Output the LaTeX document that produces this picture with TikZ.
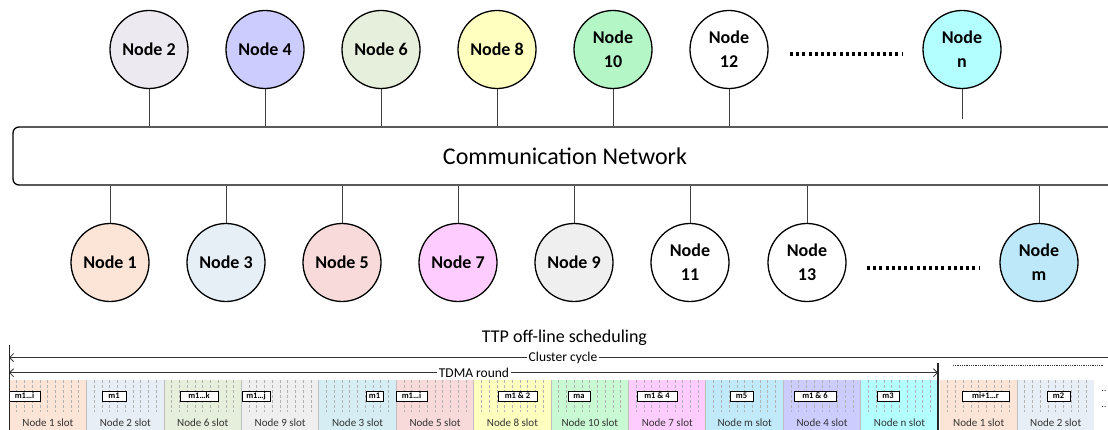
\documentclass[tikz,border=0pt]{standalone}
\usepackage{fontspec}
\setmainfont{Carlito}
\usetikzlibrary{arrows.meta}
\definecolor{cA}{HTML}{FCE4D6}
\definecolor{cB}{HTML}{EDE9F1}
\definecolor{cC}{HTML}{E6EEF6}
\definecolor{cD}{HTML}{CCCCFF}
\definecolor{cE}{HTML}{F8DADA}
\definecolor{cF}{HTML}{E6EFDB}
\definecolor{cG}{HTML}{FFCCFF}
\definecolor{cH}{HTML}{FFFFC0}
\definecolor{cI}{HTML}{EFEFEF}
\definecolor{cJ}{HTML}{B4F6C6}
\definecolor{cN}{HTML}{B3FFFF}
\definecolor{cM}{HTML}{BDE8FA}
\definecolor{sB}{HTML}{E8EEF5}
\definecolor{sC}{HTML}{D6EEF3}
\definecolor{sJ}{HTML}{C8F9D2}
\definecolor{sM}{HTML}{C0EAFA}
\definecolor{lineg}{HTML}{404040}
\begin{document}
\begin{tikzpicture}[x=1pt,y=-1pt,
  nd/.style={circle, draw=black, line width=1.3pt, minimum size=78pt, inner sep=0pt, align=center,
    font=\fontsize{18}{24}\selectfont\bfseries},
  conn/.style={draw=lineg, line width=0.8pt},
  slotbox/.style={draw=none, minimum width=77.42pt, minimum height=50pt, inner sep=0pt, anchor=north west},
  slotlbl/.style={font=\fontsize{11}{12}\selectfont, text=black!80},
  msg/.style={draw=black, fill=white, line width=0.8pt, minimum height=10pt, inner sep=0pt,
    font=\fontsize{8.5}{9}\selectfont\bfseries},
  tick/.style={draw=gray!60, line width=0.5pt, dash pattern=on 3pt off 2pt},
  sep/.style={draw=gray!50, line width=0.6pt},
  tl/.style={draw=black!80, line width=0.8pt},
  tip/.style={arrows={Straight Barb[length=4pt,width=8pt]-Straight Barb[length=4pt,width=8pt]}},
  bigdots/.style={draw=black, line width=3.4pt, dash pattern=on 3pt off 3.2pt}
]
\useasboundingbox (0,0) rectangle (1108,430);
\clip (0,0) rectangle (1108,430);

% network
\node[draw=black, line width=1.3pt, rounded corners=6pt, minimum width=1104pt, minimum height=58pt,
  inner sep=0pt, font=\fontsize{24}{28}\selectfont] (net) at (565,156) {Communication Network};

% top nodes
\node[nd, fill=cB] (n2) at (149,49.5) {Node 2};
\node[nd, fill=cD] (n4) at (265,49.5) {Node 4};
\node[nd, fill=cF] (n6) at (381,49.5) {Node 6};
\node[nd, fill=cH] (n8) at (497,49.5) {Node 8};
\node[nd, fill=cJ] (n10) at (613,49.5) {Node\\10};
\node[nd, fill=white] (n12) at (729,49.5) {Node\\12};
\node[nd, fill=cN] (nn) at (962,49.5) {Node\\n};
\coordinate (td1) at (790,54);
\coordinate (td2) at (902,54);
\draw[bigdots] (td1) -- (td2);

\foreach \a in {n2,n4,n6,n8,n10,n12} \draw[conn] (\a) -- (\a |- net.north);
\coordinate (nnend) at (962,119);
\draw[conn] (nn) -- (nnend);

% bottom nodes
\node[nd, fill=cA] (n1) at (110,262.5) {Node 1};
\node[nd, fill=cC] (n3) at (226,262.5) {Node 3};
\node[nd, fill=cE] (n5) at (342,262.5) {Node 5};
\node[nd, fill=cG] (n7) at (458,262.5) {Node 7};
\node[nd, fill=cI] (n9) at (574,262.5) {Node 9};
\node[nd, fill=white] (n11) at (690,262.5) {Node\\11};
\node[nd, fill=white] (n13) at (807,262.5) {Node\\13};
\node[nd, fill=cM] (nm) at (1039,262.5) {Node\\m};
\coordinate (bd1) at (867,268);
\coordinate (bd2) at (980,268);
\draw[bigdots] (bd1) -- (bd2);
\foreach \a in {n1,n3,n5,n7,n9,n11,n13,nm} \draw[conn] (\a) -- (\a |- net.south);

% timeline title
\node[font=\fontsize{18}{21}\selectfont] (title) at (564.5,338) {TTP off-line scheduling};

% slots
\foreach \i/\c/\t in {0/cA/Node 1 slot,1/sB/Node 2 slot,2/cF/Node 6 slot,3/cI/Node 9 slot,
  4/sC/Node 3 slot,5/cE/Node 5 slot,6/cH/Node 8 slot,7/sJ/Node 10 slot,8/cG/Node 7 slot,
  9/sM/Node m slot,10/cD/Node 4 slot,11/cN/Node n slot}{
  \node[slotbox, fill=\c] (s\i) at ({9+\i*77.42},380) {};
  \node[slotlbl] (sl\i) at (s\i.center |- 0,423) {\t};
  \foreach \k in {1,...,9} \draw[tick] ({9+\i*77.42+\k*7.742},380) -- ++(0,32);
  \draw[sep] (s\i.north west) -- (s\i.south west);
}
\node[slotbox, fill=cA, minimum width=77pt] (s12) at (940,380) {};
\node[slotlbl] (sl12) at (s12.center |- 0,423) {Node 1 slot};
\node[slotbox, fill=sB, minimum width=77pt] (s13) at (1017,380) {};
\node[slotlbl] (sl13) at (s13.center |- 0,423) {Node 2 slot};
\foreach \x in {940,1017} \foreach \k in {1,...,9} \draw[tick] ({\x+\k*7.7},380) -- ++(0,32);
\draw[sep] (s13.north west) -- (s13.south west);

% messages
\node[msg, minimum width=31pt] (m1) at (24.5,396) {m1…i};
\node[msg, minimum width=24pt] (m2) at (114,396) {m1};
\node[msg, minimum width=38pt] (m3) at (199,396) {m1…k};
\node[msg, minimum width=28pt] (m4) at (256,396) {m1…j};
\node[msg, minimum width=17pt] (m5) at (374.5,396) {m1};
\node[msg, minimum width=31pt] (m6) at (411.5,396) {m1…i};
\node[msg, minimum width=39pt] (m7) at (517.5,396) {m1 \& 2};
\node[msg, minimum width=22pt] (m8) at (579,396) {ma};
\node[msg, minimum width=40pt] (m9) at (657,396) {m1 \& 4};
\node[msg, minimum width=23pt] (m10) at (741.5,396) {m5};
\node[msg, minimum width=42pt] (m11) at (815,396) {m1 \& 6};
\node[msg, minimum width=22pt] (m12) at (888,396) {m3};
\node[msg, minimum width=47pt] (m13) at (985.5,396) {mi+1…r};
\node[msg, minimum width=23pt] (m14) at (1058.5,396) {m2};

% cycle lines
\coordinate (cl) at (9,357.5);
\coordinate (cr) at (1110,357.5);
\coordinate (rl) at (9,372.7);
\coordinate (rr) at (938,372.7);
\draw[tl, arrows={Straight Barb[length=4pt,width=8pt]-}] (cl) -- (cr);
\draw[tl, tip] (rl) -- (rr);
\node[fill=white, inner sep=1.5pt, font=\fontsize{13.5}{15}\selectfont] (cc) at (563,357.5) {Cluster cycle};
\node[fill=white, inner sep=1.5pt, font=\fontsize{13.5}{15}\selectfont] (tr) at (474,372.7) {TDMA round};
\coordinate (vl1) at (9,345);
\coordinate (vl2) at (9,430);
\coordinate (vr1) at (938,363);
\coordinate (vr2) at (938,430);
\draw[draw=black!85, line width=1pt] (vl1) -- (vl2);
\draw[draw=black!85, line width=1.3pt] (vr1) -- (vr2);
\coordinate (dl1) at (953,365);
\coordinate (dl2) at (1103,365);
\draw[draw=black!80, line width=0.8pt, dash pattern=on 1pt off 0.8pt] (dl1) -- (dl2);
\node[font=\fontsize{9}{10}\selectfont, inner sep=0pt] (e1) at (1104,391) {..};
\node[font=\fontsize{9}{10}\selectfont, inner sep=0pt] (e2) at (1104,407) {..};
\end{tikzpicture}
\end{document}
